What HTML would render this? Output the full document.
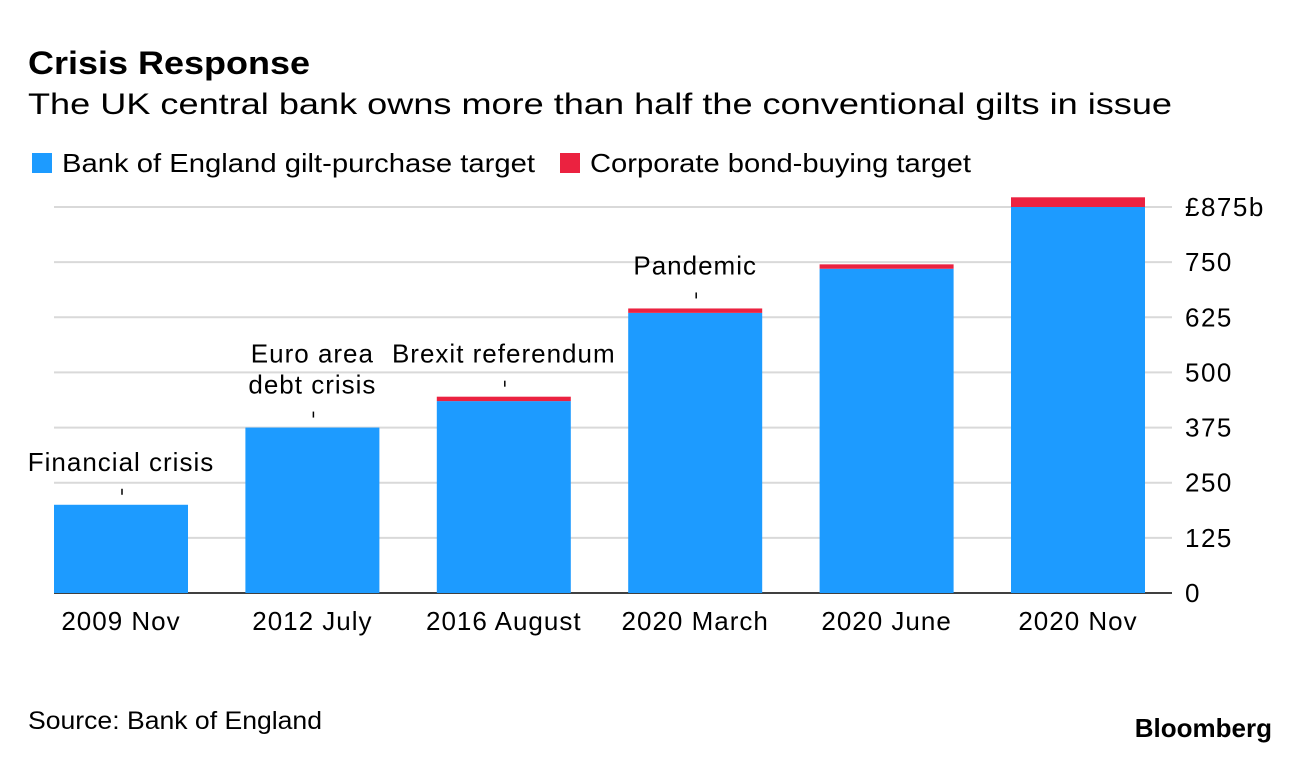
<!DOCTYPE html>
<html><head><meta charset="utf-8"><style>
body{margin:0;background:#fff;font-family:"Liberation Sans",sans-serif;}
svg text{font-family:"Liberation Sans",sans-serif;fill:#000;}
</style></head><body>
<svg width="1296" height="760">
<text x="28" y="74" font-size="32" font-weight="bold" textLength="282" lengthAdjust="spacingAndGlyphs">Crisis Response</text>
<text x="28" y="114" font-size="30" textLength="1144" lengthAdjust="spacingAndGlyphs">The UK central bank owns more than half the conventional gilts in issue</text>
<g>
<rect x="32" y="153" width="20" height="20" fill="#1d9bff"/>
<text x="62" y="172" font-size="26" textLength="473" lengthAdjust="spacingAndGlyphs">Bank of England gilt-purchase target</text>
<rect x="560" y="153" width="20" height="20" fill="#eb2240"/>
<text x="590" y="172" font-size="26" textLength="381" lengthAdjust="spacingAndGlyphs">Corporate bond-buying target</text>
</g>
<g id="grid"></g><g id="bars"></g><g id="labels"></g>
<text x="28" y="729" font-size="25" textLength="294" lengthAdjust="spacingAndGlyphs">Source: Bank of England</text>
<text x="1272" y="737" font-size="26" font-weight="bold" text-anchor="end">Bloomberg</text>
</svg>
<script>
const categories=["2009 Nov","2012 July","2016 August","2020 March","2020 June","2020 Nov"];
const giltValues=[200,375,435,635,735,875];
const corpValues=[0,0,10,10,10,22];
const annotations=["Financial crisis","Euro area|debt crisis","Brexit referendum","Pandemic","",""];
const ticks=[0,125,250,375,500,625,750,875];
const tickLabels=["0","125","250","375","500","625","750","£875b"];
const NS="http://www.w3.org/2000/svg";
const y0=593,ppu=(593-207)/875;
const y=v=>y0-v*ppu;
const x=i=>54+i*191.4;
const bw=134;
function mk(tag,attrs,parent,txt){const e=document.createElementNS(NS,tag);for(const k in attrs)e.setAttribute(k,attrs[k]);if(txt!==undefined)e.textContent=txt;parent.appendChild(e);return e;}
const g=document.getElementById('grid'),b=document.getElementById('bars'),l=document.getElementById('labels');
ticks.forEach((t,i)=>{
 const ln=mk('line',{x1:54,x2:1172,y1:y(t),y2:y(t),stroke:t===0?'#000':'#d9d9d9','stroke-width':t===0?1.5:2},g);
 
 
 const tx=mk('text',{x:1185,y:y(t)+9,'font-size':26,'letter-spacing':1.5},g,tickLabels[i]);
 
 
});
categories.forEach((c,i)=>{
 const r=mk('rect',{x:x(i),y:y(giltValues[i]),width:bw,height:giltValues[i]*ppu,fill:'#1d9bff'},b);
 
 
 if(corpValues[i]>0){
  const r2=mk('rect',{x:x(i),y:y(giltValues[i]+corpValues[i]),width:bw,height:corpValues[i]*ppu,fill:'#eb2240'},b);
  
  
 }
 const t=mk('text',{x:x(i)+bw/2,y:630,'font-size':26,'letter-spacing':1,'text-anchor':'middle'},l,c);
 
 
 if(annotations[i]){
  const top=y(giltValues[i]+corpValues[i]);
  const lines=annotations[i].split('|');
  const tk=mk('line',{x1:x(i)+bw/2+1,x2:x(i)+bw/2+1,y1:top-16,y2:top-10,stroke:'#000','stroke-width':1.5},l);
  
  
  lines.forEach((s,j)=>{
   const a=mk('text',{x:x(i)+bw/2,y:top-34-(lines.length-1-j)*31,'font-size':26,'letter-spacing':1,'text-anchor':'middle'},l,s);
   
   
  });
 }
});
</script>
</body></html>
